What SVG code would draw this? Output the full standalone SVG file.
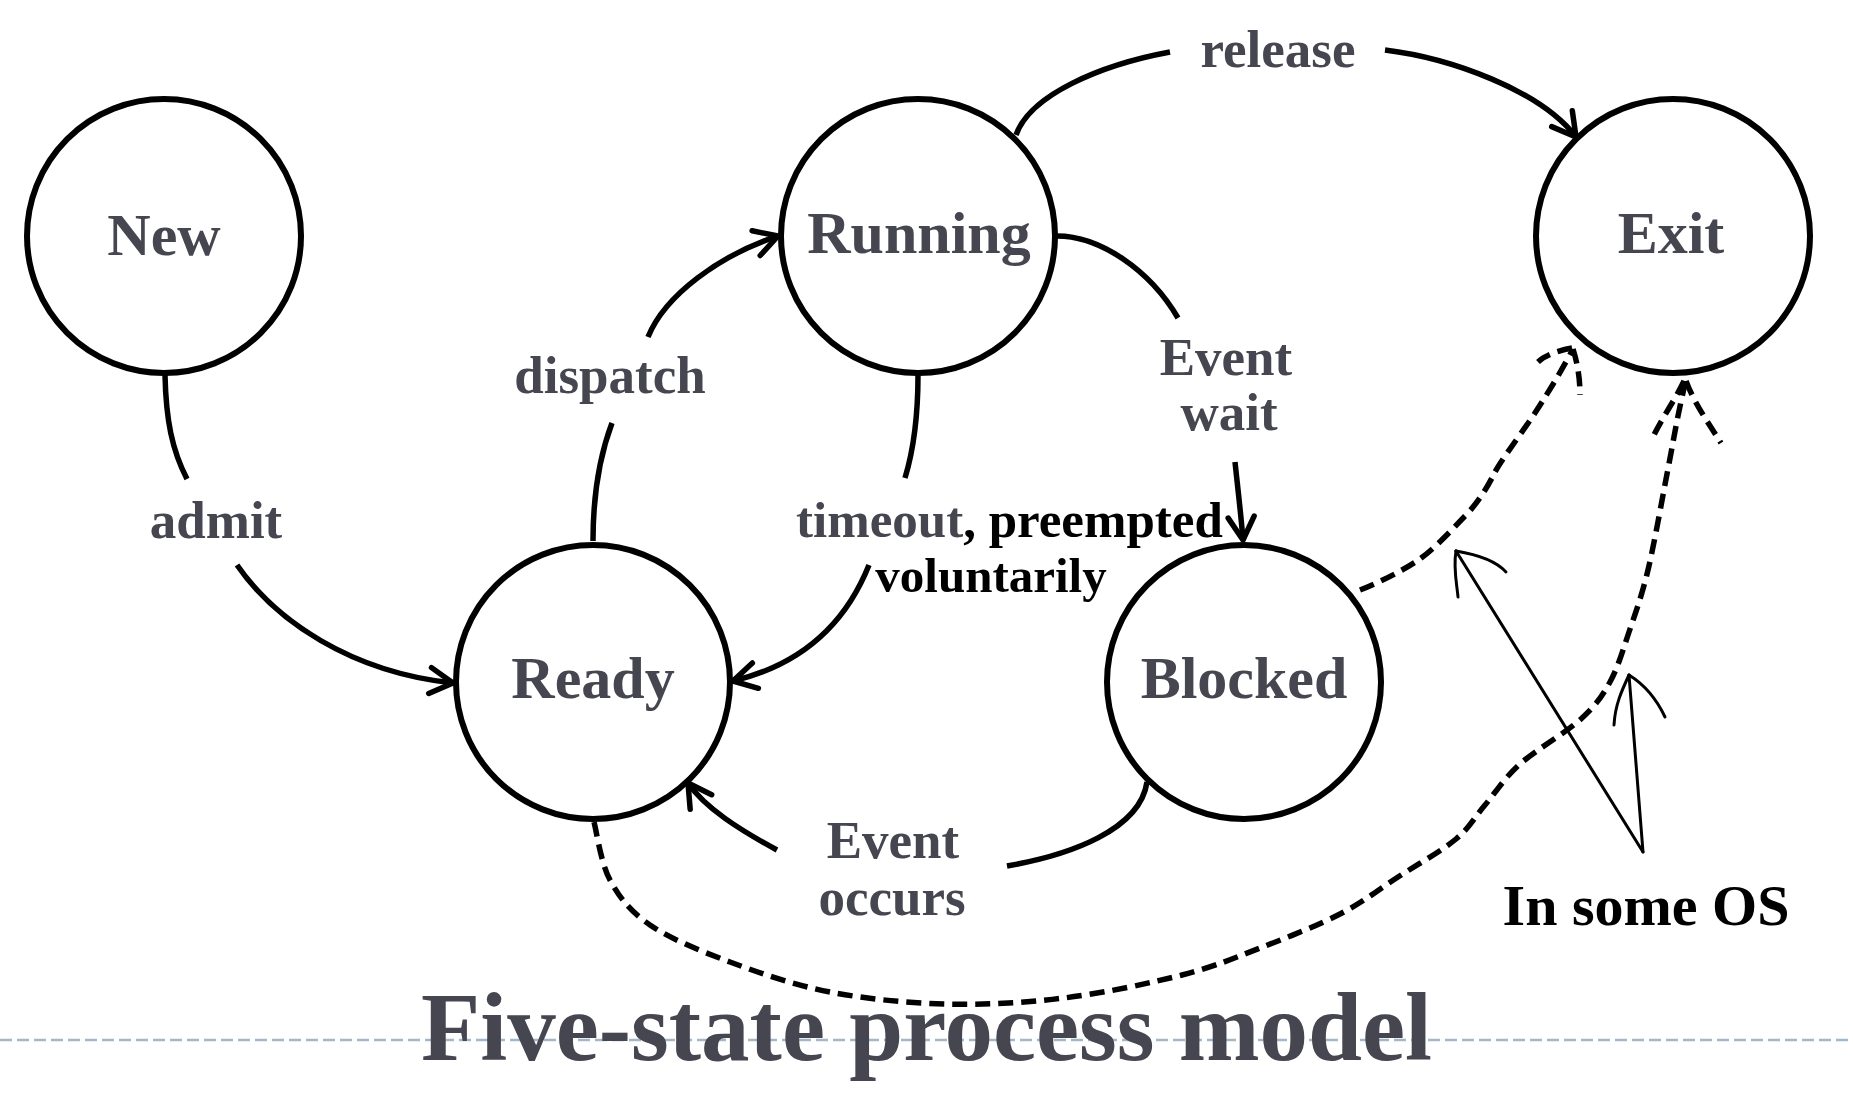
<svg xmlns="http://www.w3.org/2000/svg" width="1853" height="1108" viewBox="0 0 1853 1108">
<style>
.node{fill:#fff;stroke:#000;stroke-width:6}
.nl{font-family:"Liberation Serif","Times New Roman",serif;font-weight:bold;font-size:60px;fill:#464651;text-anchor:middle}
.el{font-family:"Liberation Serif","Times New Roman",serif;font-weight:bold;font-size:53px;fill:#464651;text-anchor:middle}
.blk{fill:#000}
.edge{fill:none;stroke:#000;stroke-width:5.5;stroke-linecap:butt}
.dash{fill:none;stroke:#000;stroke-width:5.5;stroke-dasharray:15 8}
.thin{fill:none;stroke:#000;stroke-width:3;stroke-linecap:round}
</style>
<defs>
<marker id="arr" markerUnits="userSpaceOnUse" viewBox="-30 -20 40 40" refX="0" refY="0" markerWidth="40" markerHeight="40" orient="auto" overflow="visible">
<path d="M-23,-13 L0,0 L-23,13" fill="none" stroke="#000" stroke-width="5.5" stroke-linecap="round" stroke-linejoin="round"/>
</marker>
</defs>
<rect width="1853" height="1108" fill="#fff"/>
<line x1="0" y1="1040" x2="1853" y2="1040" stroke="#a3b7ca" stroke-width="2.5" stroke-dasharray="12 5"/>
<g id="node-new"><circle class="node" cx="164" cy="236" r="137"/><text class="nl" x="164" y="255">New</text></g>
<g id="node-running"><circle class="node" cx="918" cy="236" r="137"/><text class="nl" x="919" y="253">Running</text></g>
<g id="node-exit"><circle class="node" cx="1673" cy="236" r="137"/><text class="nl" x="1671" y="253">Exit</text></g>
<g id="node-ready"><circle class="node" cx="593" cy="682" r="137"/><text class="nl" x="593" y="698">Ready</text></g>
<g id="node-blocked"><circle class="node" cx="1244" cy="682" r="137"/><text class="nl" x="1244" y="698">Blocked</text></g>
<g id="connectors">
<path class="edge" d="M165,375 C166,420 172,450 187,479"/>
<path class="edge" d="M237,565 C275,620 350,672 453,683" marker-end="url(#arr)"/>
<text class="el" x="216" y="538">admit</text>
<path class="edge" d="M593,541 C593,490 600,455 612,423"/>
<path class="edge" d="M648,337 C665,295 720,255 778,236" marker-end="url(#arr)"/>
<text class="el" x="610" y="393">dispatch</text>
<path class="edge" d="M918,375 C918,420 912,455 905,478"/>
<path class="edge" d="M869,565 C845,625 800,665 733,681" marker-end="url(#arr)"/>
<text class="el" x="796" y="537" style="text-anchor:start;font-size:51px">timeout<tspan class="blk">, preempted</tspan></text>
<text class="el blk" x="991" y="592" style="font-size:49px">voluntarily</text>
<path class="edge" d="M1057,236 C1100,236 1150,270 1178,318"/>
<path class="edge" d="M1235,462 C1238,490 1241,515 1243,540" marker-end="url(#arr)"/>
<text class="el" x="1226" y="375">Event</text>
<text class="el" x="1229" y="430">wait</text>
<path class="edge" d="M1016,135 C1030,95 1100,65 1170,52"/>
<path class="edge" d="M1385,50 C1450,58 1540,90 1576,137" marker-end="url(#arr)"/>
<text class="el" x="1278" y="67">release</text>
<path class="edge" d="M1147,782 C1140,830 1070,855 1007,866"/>
<path class="edge" d="M777,850 C740,830 705,808 688,783" marker-end="url(#arr)"/>
<text class="el" x="893" y="858">Event</text>
<text class="el" x="892" y="915">occurs</text>
<path class="dash" d="M594,822 C596.7,831.7 600.7,862.8 610,880 C619.3,897.2 630,911.3 650,925 C670,938.7 700,950.8 730,962 C760,973.2 794,985 830,992 C866,999 907,1003 946,1004 C985,1005 1024.7,1002.8 1064,998 C1103.3,993.2 1149.3,983.3 1182,975 C1214.7,966.7 1233.7,958.2 1260,948 C1286.3,937.8 1317,925.8 1340,914 C1363,902.2 1378.7,889.5 1398,877 C1417.3,864.5 1441.5,851 1456,839 C1470.5,827 1474.3,817.5 1485,805 C1495.7,792.5 1504,778.3 1520,764 C1536,749.7 1566,732.7 1581,719 C1596,705.3 1602,696.5 1610,682 C1618,667.5 1622.7,650.7 1629,632 C1635.3,613.3 1641.7,596.3 1648,570 C1654.3,543.7 1662,499.7 1667,474 C1672,448.3 1674.8,431.8 1678,416 C1681.2,400.2 1684.7,385.2 1686,379"/>
<path class="dash" d="M1684,381 C1675,400 1662,418 1653,437"/>
<path class="dash" d="M1686,381 C1695,405 1710,425 1721,443"/>
<path class="dash" d="M1360,590 C1380,582 1400,572 1417,561 C1432,551 1450,532 1465,516 C1478,503 1488,486 1494,474 C1500,462 1518,438 1533,416 C1545,398 1562,370 1573,349"/>
<path class="dash" d="M1572,348 C1560,350 1545,355 1538,362"/>
<path class="dash" d="M1573,349 C1578,365 1580,380 1580,395"/>
<path class="thin" d="M1643,852 L1456,551"/>
<path class="thin" d="M1456,551 C1453,568 1457,585 1458,597"/>
<path class="thin" d="M1456,551 C1480,555 1497,562 1506,572"/>
<path class="thin" d="M1643,852 L1629,675"/>
<path class="thin" d="M1629,675 C1622,690 1615,705 1614,725"/>
<path class="thin" d="M1629,675 C1645,685 1657,700 1665,717"/>
</g>
<text x="1646" y="925" style="font-family:'Liberation Serif','Times New Roman',serif;font-weight:bold;font-size:58px;fill:#000;text-anchor:middle">In some OS</text>
<text x="421" y="1060" style="font-family:'Liberation Serif','Times New Roman',serif;font-weight:bold;font-size:97px;fill:#464651">Five-state process model</text>
</svg>
